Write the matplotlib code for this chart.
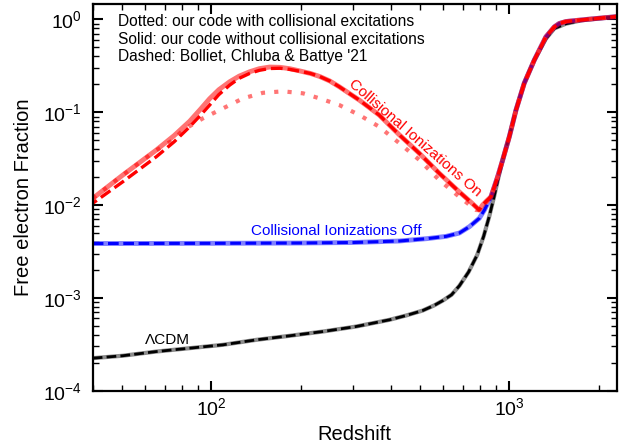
import matplotlib
matplotlib.use("Agg")
import matplotlib.pyplot as plt

plt.rcParams['font.family'] = ['Liberation Sans', 'DejaVu Sans']
plt.rcParams['mathtext.fontset'] = 'custom'
plt.rcParams['mathtext.rm'] = 'Liberation Sans'
plt.rcParams['mathtext.it'] = 'Liberation Sans:italic'
plt.rcParams['mathtext.default'] = 'regular'

# LCDM (black)
z_lcdm = [40, 50.5, 65.4, 84.6, 109.4, 141.6, 183, 237, 306, 396, 450, 512, 560, 600, 640, 680, 730,
          780, 820, 857, 890, 920, 950, 1000, 1053, 1122, 1213, 1327, 1416, 1550, 1629, 1750, 1854, 2290]
xe_lcdm = [2.24e-4, 2.38e-4, 2.64e-4, 2.87e-4, 3.12e-4, 3.53e-4, 3.90e-4, 4.34e-4, 4.91e-4, 5.80e-4,
           6.45e-4, 7.3e-4, 8.3e-4, 9.4e-4, 1.08e-3, 1.35e-3, 1.9e-3, 2.9e-3, 4.6e-3, 7.6e-3, 0.0125,
           0.020, 0.0306, 0.0545, 0.1056, 0.205, 0.365, 0.62, 0.80, 0.90, 0.93, 0.98, 1.0, 1.072]

# collisional ionizations off (blue)
z_off = [40, 100, 198, 300, 428, 530, 614, 680, 735, 793, 825, 868, 914,
         950, 1000, 1053, 1122, 1213, 1327, 1416, 1471, 1550, 1629, 1854, 2290]
xe_off = [3.85e-3, 3.87e-3, 3.9e-3, 3.95e-3, 4.1e-3, 4.35e-3, 4.6e-3, 5.0e-3, 5.85e-3, 7.2e-3,
          8.85e-3, 0.0123, 0.0202, 0.0306, 0.0545, 0.1056, 0.205, 0.365, 0.65, 0.832,
          0.905, 0.95, 0.966, 1.007, 1.072]

# collisional ionizations on (red), solid: our code without collisional excitations
z_on = [40, 50.5, 65.4, 75, 84.6, 92, 98.7, 106, 115.2, 124, 134.4, 145, 156.8, 170, 183, 198,
        215, 231, 250, 269, 314, 366, 428, 499, 582, 679, 735, 793, 813, 839, 868, 914, 950,
        1000, 1053, 1122, 1213, 1327, 1416, 1471, 1550, 1629, 1854, 2290]
xe_on = [0.0118, 0.0211, 0.0392, 0.056, 0.080, 0.108, 0.140, 0.175, 0.213, 0.245, 0.273, 0.295,
         0.307, 0.305, 0.295, 0.279, 0.262, 0.243, 0.217, 0.188, 0.135, 0.0933, 0.0569, 0.0361,
         0.022, 0.0139, 0.0111, 0.00885, 0.0100, 0.0111, 0.0123, 0.0202, 0.0306, 0.0545, 0.1056,
         0.205, 0.365, 0.65, 0.832, 0.905, 0.95, 0.966, 1.007, 1.072]

# dashed: Bolliet, Chluba & Battye '21
z_on_bcb = [40, 50.5, 65.4, 75, 84.6, 92, 98.7, 106, 115.2, 124, 134.4, 145, 156.8, 170, 183, 198,
            215, 231, 250, 269, 314, 366, 428, 499, 582, 679, 735, 793, 813, 839, 868, 914, 950,
            1000, 1053, 1122, 1213, 1327, 1416, 1471, 1550, 1629, 1854, 2290]
xe_on_bcb = [0.01045, 0.01786, 0.0332, 0.048, 0.0698, 0.093, 0.1195, 0.155, 0.196, 0.232, 0.262,
             0.283, 0.296, 0.298, 0.290, 0.277, 0.262, 0.243, 0.217, 0.188, 0.135, 0.0933, 0.0569,
             0.0361, 0.022, 0.0139, 0.0111, 0.00885, 0.0100, 0.0111, 0.0123, 0.0202, 0.0306, 0.0545,
             0.1056, 0.205, 0.365, 0.65, 0.832, 0.905, 0.95, 0.966, 1.007, 1.072]

# dotted: our code with collisional excitations
z_exc = [40, 50.5, 65.4, 74.3, 80.4, 93.7, 109.4, 127.6, 149, 174, 203, 231, 269, 314, 366,
         428, 499, 582, 679, 773, 800, 840, 868, 914, 950, 1000, 1053, 1122, 1213, 1327,
         1416, 1471, 1550, 1629, 1854, 2290]
xe_exc = [0.0118, 0.0211, 0.039, 0.050, 0.0643, 0.086, 0.110, 0.141, 0.162, 0.168, 0.160, 0.141,
          0.1195, 0.0933, 0.0698, 0.0463, 0.0306, 0.0186, 0.0123, 0.00885, 0.0088, 0.0108, 0.0123,
          0.0202, 0.0306, 0.0545, 0.1056, 0.205, 0.365, 0.65, 0.832, 0.905, 0.95, 0.966, 1.007, 1.072]

fig = plt.figure(figsize=(6.33, 4.47), dpi=100)
ax = fig.add_axes([0.1465, 0.126, 0.8275, 0.864])

ax.plot(z_lcdm, xe_lcdm, color='black', lw=3, alpha=0.45, solid_capstyle='butt')
ax.plot(z_lcdm, xe_lcdm, color='black', lw=2, ls=(0, (3.5, 1.5)))

ax.plot(z_off, xe_off, color='blue', lw=3.5, alpha=0.5)
ax.plot(z_off, xe_off, color='blue', lw=2.2, ls=(0, (3.5, 1.5)))

ax.plot(z_exc, xe_exc, color='#f66', lw=3, ls=(0, (1, 2.2)), alpha=0.9)
ax.plot(z_on, xe_on, color='red', lw=3.5, alpha=0.55)
ax.plot(z_on_bcb, xe_on_bcb, color='red', lw=2.4, ls=(2, (3.5, 1.5)))

ax.set_xscale('log')
ax.set_yscale('log')
ax.set_xlim(40, 2290)
ax.set_ylim(1e-4, 1.45)

ax.set_xlabel('Redshift', fontsize=14.5, labelpad=4)
ax.set_ylabel('Free electron Fraction', fontsize=14.5, labelpad=7)

ax.tick_params(which='both', direction='in', top=True, right=True)
ax.tick_params(which='major', length=7, width=1.5, labelsize=14)
ax.tick_params(axis='y', which='major', pad=8)
ax.tick_params(axis='x', which='major', pad=5)
ax.tick_params(which='minor', length=4, width=1)
for s in ax.spines.values():
    s.set_linewidth(1.6)

ax.text(0.049, 0.955, 'Dotted: our code with collisional excitations', transform=ax.transAxes,
        fontsize=11.2, va='center')
ax.text(0.049, 0.9094, 'Solid: our code without collisional excitations', transform=ax.transAxes,
        fontsize=11.2, va='center')
ax.text(0.049, 0.8644, "Dashed: Bolliet, Chluba & Battye '21", transform=ax.transAxes,
        fontsize=11.2, va='center')

ax.text(482, 0.0534, 'Collisional Ionizations On', color='red', fontsize=11, rotation=-41,
        ha='center', va='center', rotation_mode='anchor')
ax.text(263, 5.26e-3, 'Collisional Ionizations Off', color='blue', fontsize=11,
        ha='center', va='center')
ax.text(71.1, 3.53e-4, '\u039bCDM', color='black', fontsize=11, ha='center', va='center')

fig.savefig('out.png', dpi=100)
